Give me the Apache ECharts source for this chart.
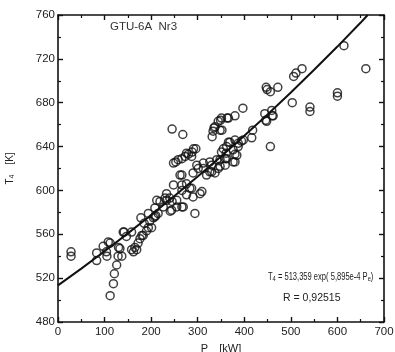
<!DOCTYPE html>
<html>
<head>
<meta charset="utf-8">
<script src="https://cdn.jsdelivr.net/npm/echarts@6/dist/echarts.min.js"></script>
<style>
html,body{margin:0;padding:0;background:#fff;}
#c{width:395px;height:352px;}
</style>
</head>
<body>
<div id="c"></div>
<script>
// Measured points: [Pe kW, T4 K]
var measured = [
[28,544],[28,540],
[83,543],[83,536],
[97,549],[104,544],[105,540],[108,553],[112,552],
[112,504],[119,515],[121,524],[126,532],[129,540],[130,548],[133,547],[137,540],
[140,562],[142,562],[147,558],[158,562],
[158,546],[162,544],[165,548],[169,546],[172,552],[176,556],[180,559],[183,559],[190,563],[194,566],[201,566],
[178,575],[185,570],[194,579],[197,572],[208,576],[208,584],[210,577],[215,579],[212,591],[226,585],[230,593],[233,591],[244,582],[245,590],
[205,575],[219,590],[233,597],[240,593],[241,581],[248,605],[255,591],[255,585],[262,614],[266,605],[266,600],[266,585],[269,585],[276,596],[276,606],[283,602],[287,602],[290,594],[294,579],[305,597],[309,599],[266,614],
[290,616],[301,620],[312,620],[319,614],[326,617],[337,616],[344,620],[330,617],[312,625],[326,626],[330,623],
[248,625],[253,626],[258,628],[266,629],[273,631],[280,633],[288,635],[296,638],[298,623],[291,638],[276,634],[287,631],
[245,656],[268,651],
[331,649],[333,654],[335,657],[337,658],[344,663],[349,664],[351,666],[348,655],[352,655],[363,666],[366,666],[380,668],[397,675],
[341,628],[348,628],[351,635],[359,629],[361,634],[362,640],[366,644],[369,644],[376,637],[380,633],[380,626],[384,632],[387,640],[387,643],[394,645],[398,646],[380,646],[376,626],[348,622],[359,623],[355,638],[362,629],
[416,648],[418,655],
[444,670],[447,694],[449,692],[456,690],[459,673],[462,668],[448,663],[446,664],[460,668],[456,640],[472,694],
[503,680],[506,704],[511,707],[524,711],
[541,676],[541,672],
[600,689],[600,686],
[614,732],[661,711]
];
// Fit curve points: [Pe kW, T4 K]
var fitCurve = [
[0,513.4],[50,528.7],[100,544.5],[150,560.8],[200,577.6],[250,594.9],[300,612.7],
[350,631.0],[400,649.9],[450,669.3],[500,689.3],[550,710.0],[600,731.2],[650,753.1],[665,760]
];
var xTicks = [0,100,200,300,400,500,600,700];
var yTicks = [480,520,560,600,640,680,720,760];

var FONT = 'Liberation Sans, Arial, sans-serif';
var chart = echarts.init(document.getElementById('c'), null, {renderer:'canvas'});

function axisBase(extra){
  var a = {
    axisLine:{show:true,onZero:false,lineStyle:{color:'#111',width:1.6}},
    axisTick:{show:true,inside:true,length:5,lineStyle:{color:'#111',width:1.4}},
    minorTick:{show:true,splitNumber:2,length:3,lineStyle:{color:'#111',width:1.2}},
    splitLine:{show:false},
    minorSplitLine:{show:false}
  };
  for (var k in extra) a[k]=extra[k];
  return a;
}

chart.setOption({
  animation:false,
  backgroundColor:'#fff',
  grid:{left:58,right:11,top:15,bottom:30,containLabel:false,outerBoundsMode:'none'},
  xAxis:[
    axisBase({type:'value',position:'bottom',min:xTicks[0],max:xTicks[xTicks.length-1],interval:100,
      axisLabel:{show:true,color:'#222',fontSize:11.5,fontFamily:FONT,margin:4},
      name:'{p|P}{s|e}  {p|[kW]}',nameLocation:'middle',nameGap:19,
      nameTextStyle:{rich:{p:{fontSize:11,fontFamily:FONT,color:'#222'},s:{fontSize:8,fontFamily:FONT,color:'#222',verticalAlign:'bottom',padding:[0,0,-4,0]}}}
    }),
    axisBase({type:'value',position:'top',min:xTicks[0],max:xTicks[xTicks.length-1],interval:100,axisLabel:{show:false}})
  ],
  yAxis:[
    axisBase({type:'value',position:'left',min:yTicks[0],max:yTicks[yTicks.length-1],interval:40,
      axisLabel:{show:true,color:'#222',fontSize:11.5,fontFamily:FONT,margin:3},
      name:'{p|T}{s|4}   {p|[K]}',nameLocation:'middle',nameGap:42,nameRotate:90,
      nameTextStyle:{rich:{p:{fontSize:10,fontFamily:FONT,color:'#222'},s:{fontSize:7,fontFamily:FONT,color:'#222',padding:[0,0,-4,0]}}}
    }),
    axisBase({type:'value',position:'right',min:yTicks[0],max:yTicks[yTicks.length-1],interval:40,axisLabel:{show:false}})
  ],
  graphic:[
    {type:'text',left:110,top:21,style:{text:'GTU-6A  Nr3',font:'11.5px '+FONT,fill:'#333'}},
    {type:'text',x:268,y:272,scaleX:0.72,style:{
      text:'{p|T}{s|4}{p| = 513,359 exp( 5,895e-4 P}{s|e}{p|)}',
      rich:{p:{fontSize:10.5,fontFamily:FONT,fill:'#222'},s:{fontSize:8,fontFamily:FONT,fill:'#222',padding:[3,0,0,0]}}
    }},
    {type:'text',left:283,top:293,style:{text:'R = 0,92515',font:'10.5px '+FONT,fill:'#222'}}
  ],
  series:[
    {type:'scatter',xAxisIndex:0,yAxisIndex:0,data:measured,symbol:'circle',symbolSize:8,
      itemStyle:{color:'rgba(0,0,0,0)',borderColor:'#111',borderWidth:1.5},z:2},
    {type:'line',xAxisIndex:0,yAxisIndex:0,data:fitCurve,showSymbol:false,symbol:'none',smooth:false,
      lineStyle:{color:'#111',width:2},z:3}
  ]
});
</script>
</body>
</html>
